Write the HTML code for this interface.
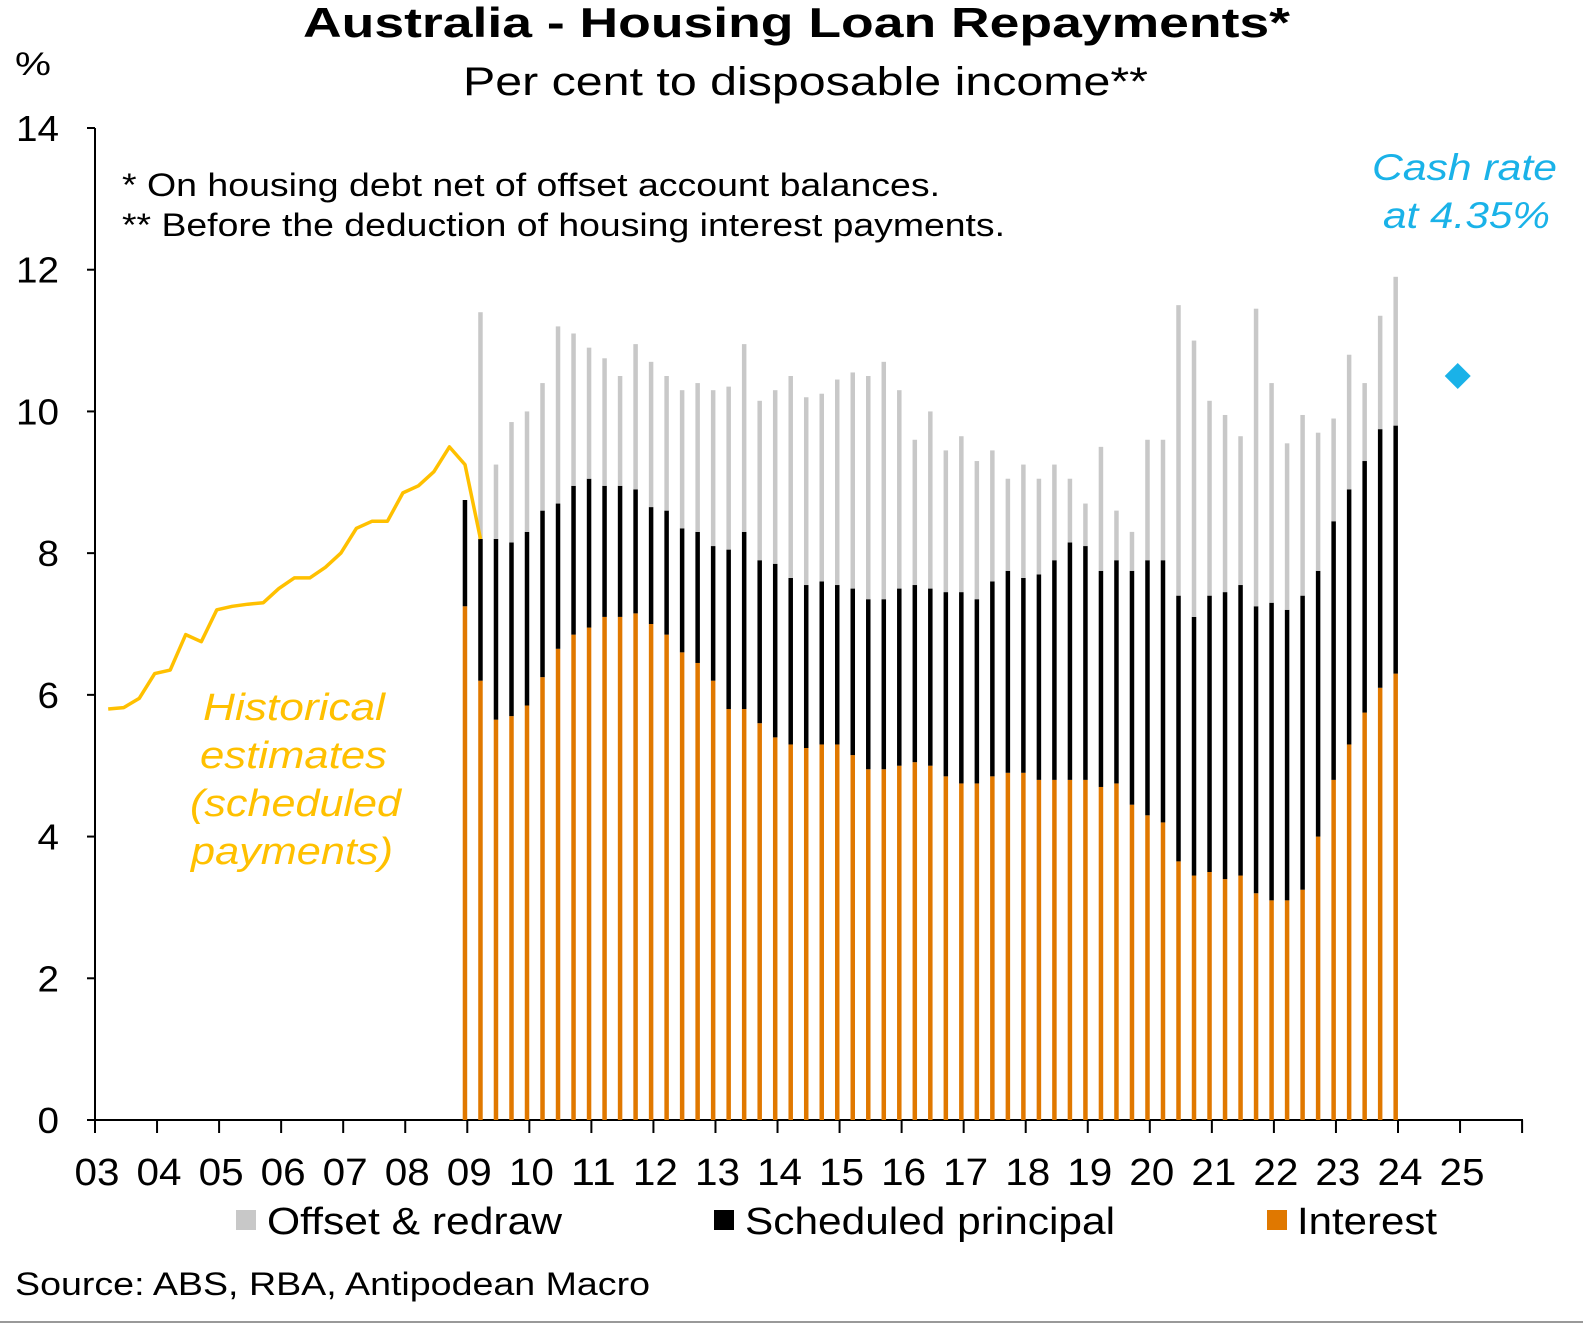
<!DOCTYPE html>
<html><head><meta charset="utf-8"><style>
body{margin:0;background:#fff;}
svg text{font-family:"Liberation Sans",sans-serif;}
</style></head><body>
<svg id="chart" width="1583" height="1325" viewBox="0 0 1583 1325" xmlns="http://www.w3.org/2000/svg">
<rect x="0" y="0" width="1583" height="1325" fill="#fff"/>
<line x1="0" y1="1322" x2="1583" y2="1322" stroke="#999" stroke-width="2"/>
<text x="303" y="37" font-size="42" font-weight="bold" textLength="987" lengthAdjust="spacingAndGlyphs">Australia - Housing Loan Repayments*</text>
<text x="463" y="95" font-size="40" textLength="685" lengthAdjust="spacingAndGlyphs">Per cent to disposable income**</text>
<text x="15" y="75" font-size="32" textLength="36" lengthAdjust="spacingAndGlyphs">%</text>
<text x="122" y="196" font-size="32" textLength="818" lengthAdjust="spacingAndGlyphs">* On housing debt net of offset account balances.</text>
<text x="122" y="236" font-size="32" textLength="883" lengthAdjust="spacingAndGlyphs">** Before the deduction of housing interest payments.</text>
<text x="1372" y="180" font-size="37" font-style="italic" fill="#1ab2e8" textLength="185" lengthAdjust="spacingAndGlyphs">Cash rate</text>
<text x="1383" y="228" font-size="37" font-style="italic" fill="#1ab2e8" textLength="167" lengthAdjust="spacingAndGlyphs">at 4.35%</text>
<g font-size="38" font-style="italic" fill="#ffc000">
<text x="203" y="720" textLength="182" lengthAdjust="spacingAndGlyphs">Historical</text>
<text x="200" y="768" textLength="187" lengthAdjust="spacingAndGlyphs">estimates</text>
<text x="190" y="816" textLength="211" lengthAdjust="spacingAndGlyphs">(scheduled</text>
<text x="191" y="864" textLength="202" lengthAdjust="spacingAndGlyphs">payments)</text>
</g>
<g id="axes"></g>
<g id="bars"></g>
<g id="line"></g>
<g font-size="38">
<rect x="236" y="1210" width="20" height="20" fill="#c8c8c8"/>
<text x="267" y="1234" textLength="295" lengthAdjust="spacingAndGlyphs">Offset &amp; redraw</text>
<rect x="714" y="1210" width="20" height="20" fill="#000"/>
<text x="745" y="1234" textLength="370" lengthAdjust="spacingAndGlyphs">Scheduled principal</text>
<rect x="1267" y="1210" width="20" height="20" fill="#e07800"/>
<text x="1297" y="1234" textLength="140" lengthAdjust="spacingAndGlyphs">Interest</text>
</g>
<text x="15" y="1295" font-size="32" textLength="635" lengthAdjust="spacingAndGlyphs">Source: ABS, RBA, Antipodean Macro</text>
</svg>
<script>
const yTicks = [0,2,4,6,8,10,12,14];
const xLabels = ["03","04","05","06","07","08","09","10","11","12","13","14","15","16","17","18","19","20","21","22","23","24","25"];
// quarterly bars from 2008Q4 to 2023Q4
const interest = [7.25,6.2,5.65,5.7,5.85,6.25,6.65,6.85,6.95,7.1,7.1,7.15,7.0,6.85,6.6,6.45,6.2,5.8,5.8,5.6,5.4,5.3,5.25,5.3,5.3,5.15,4.95,4.95,5.0,5.05,5.0,4.85,4.75,4.75,4.85,4.9,4.9,4.8,4.8,4.8,4.8,4.7,4.75,4.45,4.3,4.2,3.65,3.45,3.5,3.4,3.45,3.2,3.1,3.1,3.25,4.0,4.8,5.3,5.75,6.1,6.3];
const principal = [1.5,2.0,2.55,2.45,2.45,2.35,2.05,2.1,2.1,1.85,1.85,1.75,1.65,1.75,1.75,1.85,1.9,2.25,2.5,2.3,2.45,2.35,2.3,2.3,2.25,2.35,2.4,2.4,2.5,2.5,2.5,2.6,2.7,2.6,2.75,2.85,2.75,2.9,3.1,3.35,3.3,3.05,3.15,3.3,3.6,3.7,3.75,3.65,3.9,4.05,4.1,4.05,4.2,4.1,4.15,3.75,3.65,3.6,3.55,3.65,3.5];
const offset = [0,3.2,1.05,1.7,1.7,1.8,2.5,2.15,1.85,1.8,1.55,2.05,2.05,1.9,1.95,2.1,2.2,2.3,2.65,2.25,2.45,2.85,2.65,2.65,2.9,3.05,3.15,3.35,2.8,2.05,2.5,2.0,2.2,1.95,1.85,1.3,1.6,1.35,1.35,0.9,0.6,1.75,0.7,0.55,1.7,1.7,4.1,3.9,2.75,2.5,2.1,4.2,3.1,2.35,2.55,1.95,1.45,1.9,1.1,1.6,2.1];
const firstBarQuarter = 23; // quarters since 2003Q1
// historical estimates line 2003Q1..2009Q1
const historical = [5.8,5.82,5.95,6.3,6.35,6.85,6.75,7.2,7.25,7.28,7.3,7.5,7.65,7.65,7.8,8.0,8.35,8.45,8.45,8.85,8.95,9.15,9.5,9.25,8.2];
const cashRateMarker = 10.5;
const cashRateQuarter = 87;

const NS="http://www.w3.org/2000/svg";
const X0=95, YB=1120, YT=128, YMAX=14, QW=(1398-95)/84;
function y(v){return YB-(YB-YT)*v/YMAX;}
function xq(q){return X0+(q+0.85)*QW;}
function xYear(i){return X0+i*QW*4;}
function mk(tag,attrs,parent){const e=document.createElementNS(NS,tag);for(const k in attrs)e.setAttribute(k,attrs[k]);parent.appendChild(e);return e;}
const axes=document.getElementById('axes');
const ya=mk('line',{x1:X0,y1:YT,x2:X0,y2:YB,stroke:'#000','stroke-width':2},axes);


yTicks.forEach(t=>{
  const l=mk('line',{x1:X0-8,y1:y(t),x2:X0,y2:y(t),stroke:'#000','stroke-width':2},axes);
  
  
  const s=String(t);
  const tx=mk('text',{x:59,y:y(t)+13,'text-anchor':'end','font-size':36,textLength:s.length*21.5,lengthAdjust:'spacingAndGlyphs'},axes);
  tx.textContent=s;
  
  
});
const xa=mk('line',{x1:X0,y1:YB,x2:1523,y2:YB,stroke:'#000','stroke-width':2},axes);


for(let i=0;i<=xLabels.length;i++){
  const l=mk('line',{x1:xYear(i),y1:YB,x2:xYear(i),y2:YB+13,stroke:'#000','stroke-width':2},axes);
  
  
}
xLabels.forEach((s,i)=>{
  const tx=mk('text',{x:xYear(i)+2,y:1185,'text-anchor':'middle','font-size':38,textLength:45,lengthAdjust:'spacingAndGlyphs'},axes);
  tx.textContent=s;
  
  
});
const bars=document.getElementById('bars');
const BW=4.5;
interest.forEach((v,i)=>{
  const cx=xq(firstBarQuarter+i);
  const p=v+principal[i], o=p+offset[i];
  const r1=mk('rect',{x:cx-BW/2,y:y(v),width:BW,height:YB-y(v),fill:'#e07800'},bars);
  
  
  const r2=mk('rect',{x:cx-BW/2,y:y(p),width:BW,height:y(v)-y(p),fill:'#000'},bars);
  
  
  if(offset[i]>0){
    const r3=mk('rect',{x:cx-BW/2,y:y(o),width:BW,height:y(p)-y(o),fill:'#c8c8c8'},bars);
    
    
  }
});
const lg=document.getElementById('line');
const pts=historical.map((v,i)=>xq(i).toFixed(1)+','+y(v).toFixed(1)).join(' ');
const pl=mk('polyline',{points:pts,fill:'none',stroke:'#ffc000','stroke-width':3.5,'stroke-linejoin':'round'},lg);


const dx=xq(cashRateQuarter), dy=y(cashRateMarker);
const dm=mk('polygon',{points:`${dx},${dy-13} ${dx+13},${dy} ${dx},${dy+13} ${dx-13},${dy}`,fill:'#1ab2e8'},lg);


</script>
</body></html>
